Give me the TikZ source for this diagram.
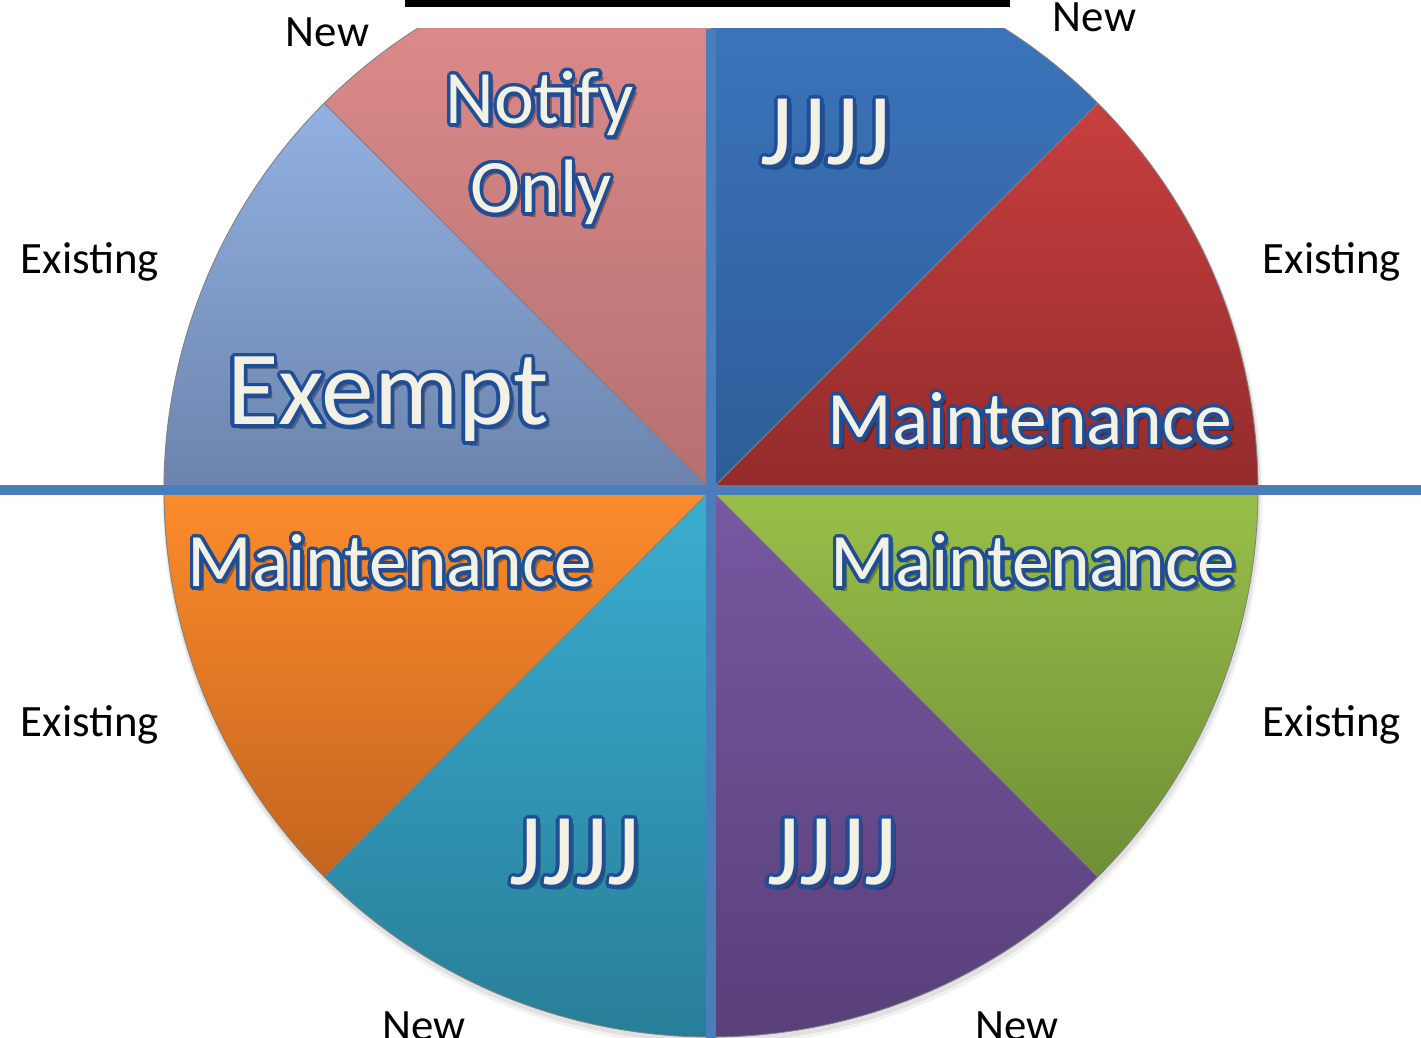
\documentclass[tikz,border=0pt]{standalone}
\usepackage{fontspec}
\setmainfont{Carlito}
\usepackage{tikz}

\definecolor{crossblue}{HTML}{4A7EBB}
\definecolor{capfill}{HTML}{F3F0E4}
\definecolor{capedge}{HTML}{1F4E96}
\definecolor{jblue}{HTML}{3E78C0}
\definecolor{jbluedk}{HTML}{2D5C98}
\definecolor{mred}{HTML}{C83F3F}
\definecolor{mreddk}{HTML}{922B2B}
\definecolor{mgreen}{HTML}{99BF4A}
\definecolor{mgreendk}{HTML}{6E8F35}
\definecolor{jpurple}{HTML}{7858A2}
\definecolor{jpurpledk}{HTML}{58407A}
\definecolor{jteal}{HTML}{3AAED0}
\definecolor{jtealdk}{HTML}{287E98}
\definecolor{morange}{HTML}{FC8C2C}
\definecolor{morangedk}{HTML}{C4641E}
\definecolor{exblue}{HTML}{92B0E2}
\definecolor{exbluedk}{HTML}{6C84AC}
\definecolor{npink}{HTML}{E28E8E}
\definecolor{npinkdk}{HTML}{B47070}

% outlined caption inside a slice: name, position, size, text
\newcommand{\piecap}[4]{%
  \node[capbase, font=\fontsize{#3}{#3}\selectfont, text=black, opacity=0.3, shift={(2.6pt,-2.6pt)}] at #2 {#4};
  \foreach \ang in {0,15,...,345}
    \node[capbase, font=\fontsize{#3}{#3}\selectfont, text=capedge, shift={(\ang:2pt)}] at #2 {#4};
  \node[capbase, font=\fontsize{#3}{#3}\selectfont, text=capfill] (#1) at #2 {#4};
}

\begin{document}
\begin{tikzpicture}[
	capbase/.style={anchor=base, inner sep=0pt},
	outer/.style={anchor=base, inner sep=0pt, font=\fontsize{25.5}{28}\selectfont},
	slice/.style={draw=black!50, line width=0.5pt},
	cross/.style={crossblue, line width=0.2cm}
]
	\useasboundingbox (-14.22,-10.96) rectangle (14.2,9.8);

	\begin{scope}
	\clip (-11.5,-11.5) rectangle (11.5,9.22);
	% soft shadow under the pie
	\fill[black, opacity=0.05] (0.03,-0.12) circle (11.0);
	\fill[black, opacity=0.07] (0.02,-0.08) circle (10.97);

	\shade[slice, top color=jblue, bottom color=jbluedk] (0,0) -- (90:10.94) arc (90:45:10.94) -- cycle;
	\shade[slice, top color=mred, bottom color=mreddk] (0,0) -- (45:10.94) arc (45:0:10.94) -- cycle;
	\shade[slice, top color=mgreen, bottom color=mgreendk] (0,0) -- (0:10.94) arc (0:-45:10.94) -- cycle;
	\shade[slice, top color=jpurple, bottom color=jpurpledk] (0,0) -- (-45:10.94) arc (-45:-90:10.94) -- cycle;
	\shade[slice, top color=jteal, bottom color=jtealdk] (0,0) -- (-90:10.94) arc (-90:-135:10.94) -- cycle;
	\shade[slice, top color=morange, bottom color=morangedk] (0,0) -- (-135:10.94) arc (-135:-180:10.94) -- cycle;
	\shade[slice, top color=exblue, bottom color=exbluedk] (0,0) -- (180:10.94) arc (180:135:10.94) -- cycle;
	\shade[slice, top color=npink, bottom color=npinkdk] (0,0) -- (135:10.94) arc (135:90:10.94) -- cycle;
	\end{scope}

	\coordinate (west) at (-14.22,0);
	\coordinate (east) at (14.2,0);
	\coordinate (north) at (0,9.22);
	\coordinate (south) at (0,-10.96);
	\draw[cross] (west) -- (east);
	\draw[cross] (north) -- (south);

	\coordinate (barl) at (-6.12,9.73);
	\coordinate (barr) at (5.98,9.73);
	\draw[line width=0.14cm] (barl) -- (barr);

	\piecap{notify}{(-3.42,7.32)}{43}{Notify}
	\piecap{only}{(-3.40,5.54)}{43}{Only}
	\piecap{jjjjtop}{(2.30,6.50)}{58}{JJJJ}
	\piecap{maintred}{(6.38,0.90)}{43}{Maintenance}
	\piecap{exempt}{(-6.46,1.30)}{60}{Exempt}
	\piecap{maintorange}{(-6.42,-1.94)}{43}{Maintenance}
	\piecap{maintgreen}{(6.44,-1.94)}{43}{Maintenance}
	\piecap{jjjjteal}{(-2.72,-7.90)}{58}{JJJJ}
	\piecap{jjjjpurple}{(2.42,-7.90)}{58}{JJJJ}

	\node[outer] (existnw) at (-12.42,4.32) {Existing};
	\node[outer] (existne) at (12.42,4.32) {Existing};
	\node[outer] (existsw) at (-12.42,-4.94) {Existing};
	\node[outer] (existse) at (12.42,-4.94) {Existing};
	\node[outer] (newnw) at (-7.67,8.86) {New};
	\node[outer] (newne) at (7.67,9.16) {New};
	\node[outer] (newsw) at (-5.74,-11.02) {New};
	\node[outer] (newse) at (6.12,-11.02) {New};
\end{tikzpicture}
\end{document}
